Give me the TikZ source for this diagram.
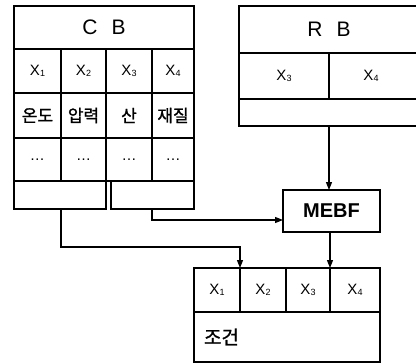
\documentclass[tikz,border=0pt]{standalone}
\usepackage{fontspec}
\setmainfont{Liberation Sans}
\newfontfamily\kr[FakeBold=1.2]{Noto Sans CJK KR}
\usetikzlibrary{arrows.meta}
\tikzset{
  cell/.style={draw, line width=1.2pt, anchor=north west, inner sep=0pt, outer sep=0pt, font=\fontsize{15}{15}\selectfont},
  thk/.style={line width=2.2pt},
  arr/.style={line width=1.2pt, -{Triangle[length=8pt,width=6pt]}},
}
\newcommand{\xs}[1]{X\raisebox{-0.1ex}{\fontsize{9}{9}\selectfont #1}}
\begin{document}
\begin{tikzpicture}[x=1pt,y=-1pt]
\useasboundingbox (0,0) rectangle (416,364);
\clip (0,0) rectangle (416,364);
% ---- C B table
\node[cell, minimum width=180pt, minimum height=43pt, font=\fontsize{21}{21}\selectfont] (cbt) at (14,6) {C\hspace{14pt}B};
\node[cell, minimum width=47pt, minimum height=44pt] (cbx1) at (14,49) {\xs{1}};
\node[cell, minimum width=45pt, minimum height=44pt] (cbx2) at (61,49) {\xs{2}};
\node[cell, minimum width=46pt, minimum height=44pt] (cbx3) at (106,49) {\xs{3}};
\node[cell, minimum width=42pt, minimum height=44pt] (cbx4) at (152,49) {\xs{4}};
\node[cell, minimum width=47pt, minimum height=45pt, font=\kr\fontsize{17}{17}\selectfont] (cbk1) at (14,93) {온도};
\node[cell, minimum width=45pt, minimum height=45pt, font=\kr\fontsize{17}{17}\selectfont] (cbk2) at (61,93) {압력};
\node[cell, minimum width=46pt, minimum height=45pt, font=\kr\fontsize{17}{17}\selectfont] (cbk3) at (106,93) {산};
\node[cell, minimum width=42pt, minimum height=45pt, font=\kr\fontsize{17}{17}\selectfont] (cbk4) at (152,93) {재질};
\node[cell, minimum width=47pt, minimum height=43pt] (cbd1) at (14,138) {\dots};
\node[cell, minimum width=45pt, minimum height=43pt] (cbd2) at (61,138) {\dots};
\node[cell, minimum width=46pt, minimum height=43pt] (cbd3) at (106,138) {\dots};
\node[cell, minimum width=42pt, minimum height=43pt] (cbd4) at (152,138) {\dots};
\draw[thk] (cbt.north west) rectangle (cbd4.south east);
\draw[thk] (cbt.south west) -- (cbt.south east);
\node[cell, minimum width=92pt, minimum height=28pt] (cbl) at (14,181) {};
\node[cell, minimum width=83pt, minimum height=28pt] (cbr) at (111,181) {};
\draw[thk] (cbd1.south west) -- (cbd4.south east);
% ---- R B table
\node[cell, minimum width=180pt, minimum height=47pt, font=\fontsize{21}{21}\selectfont] (rbt) at (239,6) {R\hspace{14pt}B\hspace{6pt}};
\node[cell, minimum width=90pt, minimum height=46pt] (rbx3) at (239,53) {\xs{3}};
\node[cell, minimum width=90pt, minimum height=46pt] (rbx4) at (329,53) {\hspace{-6pt}\xs{4}};
\node[cell, minimum width=180pt, minimum height=27pt] (rbl) at (239,99) {};
\draw[thk] (rbt.north east) -- (rbt.north west) -- (rbx3.south west) -- (rbx4.south east);
\draw[line width=1.6pt] (rbt.south west) -- (rbt.south east);
% ---- MEBF
\node[cell, thk, minimum width=97pt, minimum height=42pt, font=\bfseries\fontsize{20}{20}\selectfont] (mebf) at (283,190) {MEBF};
% ---- bottom table
\node[cell, minimum width=46pt, minimum height=44pt] (bx1) at (194,268) {\xs{1}};
\node[cell, minimum width=46pt, minimum height=44pt] (bx2) at (240,268) {\xs{2}};
\node[cell, minimum width=44pt, minimum height=44pt] (bx3) at (286,268) {\xs{3}};
\node[cell, minimum width=50pt, minimum height=44pt] (bx4) at (330,268) {\xs{4}};
\node[cell, minimum width=186pt, minimum height=50pt, text width=170pt, align=left, font=\kr\fontsize{19}{19}\selectfont] (bc) at (194,312) {\hspace{2pt}조건};
\draw[thk] (bx1.north west) rectangle (bc.south east);
\draw[thk] (bx1.south west) -- (bx4.south east);
\draw[thk] (bx3.north west) -- (bx3.south west);
% ---- connectors
\coordinate (t1) at (0,247);
\coordinate (t2) at (0,220);
\draw[arr] (cbl.south -| cbx1.east) -- (cbx1.east |- t1) -| (bx1.north east);
\draw[arr] (cbr.south -| cbx3.east) -- (cbx3.east |- t2) -- (t2 -| mebf.west);
\draw[arr] (rbl.south -| rbx3.east) -- (rbx3.east |- mebf.north);
\draw[arr] (mebf.south -| bx3.east) -- (bx3.north east);
\end{tikzpicture}
\end{document}
